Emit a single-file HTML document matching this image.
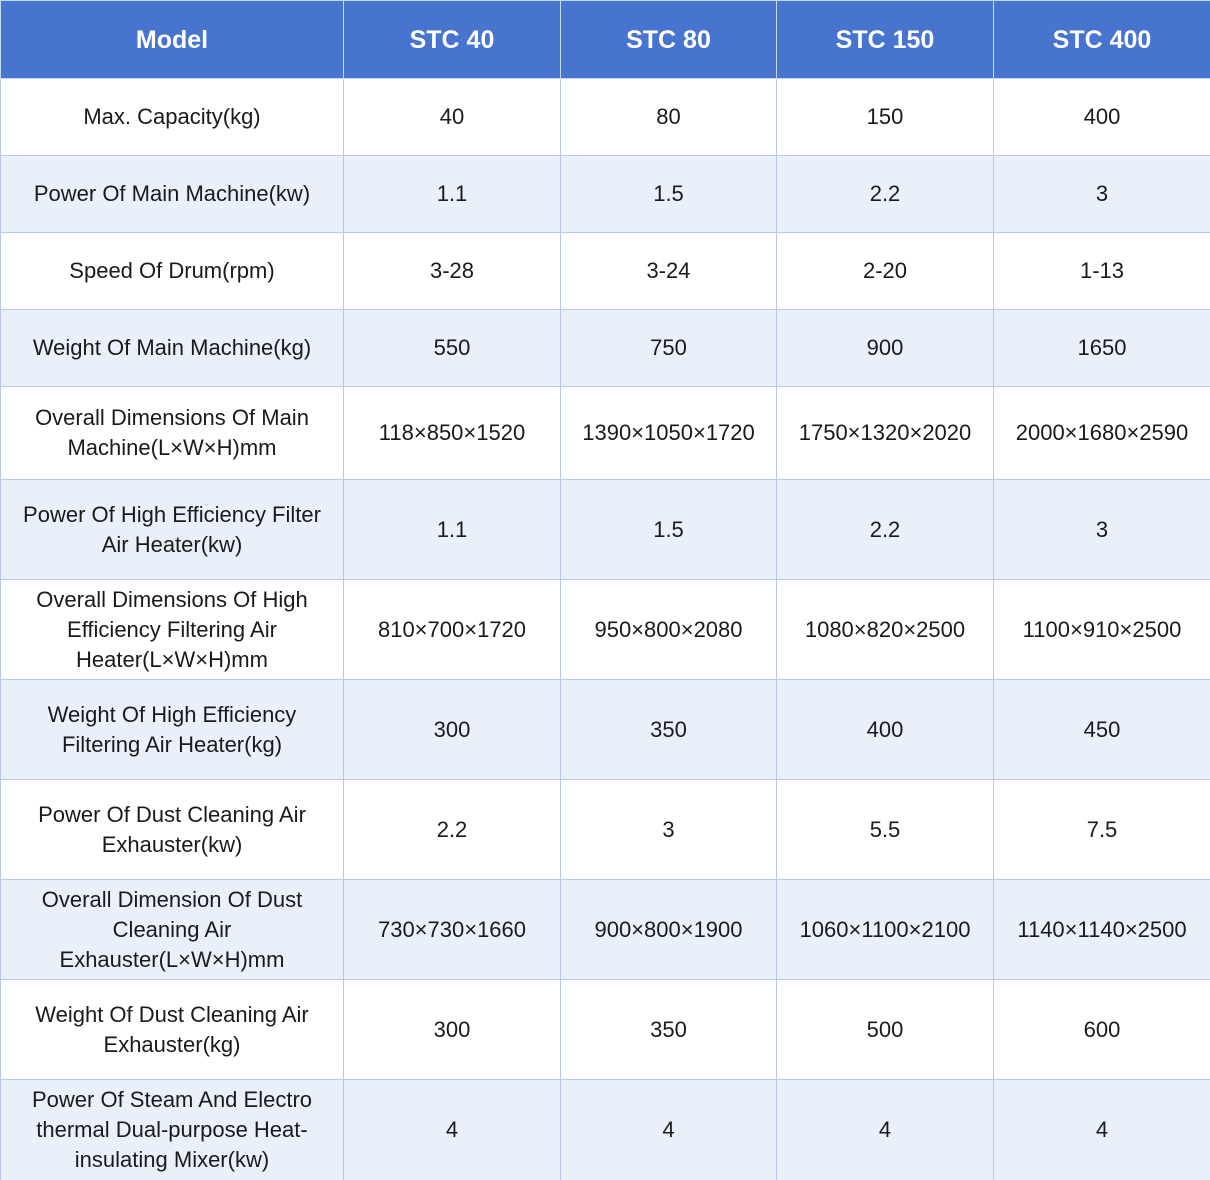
<!DOCTYPE html>
<html><head><meta charset="utf-8"><style>
html,body{margin:0;padding:0;width:1210px;height:1180px;background:#fff;overflow:hidden}
table{border-collapse:collapse;table-layout:fixed;width:1210px;font-family:"Liberation Sans",sans-serif;font-size:22px;color:#1a1a1a}
td,th{border:1px solid #b9c9e6;text-align:center;vertical-align:middle;padding:0 2px;line-height:30px;white-space:nowrap}
th{background:#4674cf;color:#fff;font-weight:bold;font-size:25px;height:77px;border-color:#c9d6ef}
tr.alt td{background:#eaf0fa}
</style></head><body>
<table>
<colgroup><col style="width:343px"><col style="width:217px"><col style="width:216px"><col style="width:217px"><col style="width:217px"></colgroup>
<tr><th>Model</th><th>STC 40</th><th>STC 80</th><th>STC 150</th><th>STC 400</th></tr>
<tr style="height:77px"><td>Max. Capacity(kg)</td><td>40</td><td>80</td><td>150</td><td>400</td></tr>
<tr class="alt" style="height:77px"><td>Power Of Main Machine(kw)</td><td>1.1</td><td>1.5</td><td>2.2</td><td>3</td></tr>
<tr style="height:77px"><td>Speed Of Drum(rpm)</td><td>3-28</td><td>3-24</td><td>2-20</td><td>1-13</td></tr>
<tr class="alt" style="height:77px"><td>Weight Of Main Machine(kg)</td><td>550</td><td>750</td><td>900</td><td>1650</td></tr>
<tr style="height:93px"><td>Overall Dimensions Of Main<br>Machine(L×W×H)mm</td><td>118×850×1520</td><td>1390×1050×1720</td><td>1750×1320×2020</td><td>2000×1680×2590</td></tr>
<tr class="alt" style="height:100px"><td>Power Of High Efficiency Filter<br>Air Heater(kw)</td><td>1.1</td><td>1.5</td><td>2.2</td><td>3</td></tr>
<tr style="height:100px"><td>Overall Dimensions Of High<br>Efficiency Filtering Air<br>Heater(L×W×H)mm</td><td>810×700×1720</td><td>950×800×2080</td><td>1080×820×2500</td><td>1100×910×2500</td></tr>
<tr class="alt" style="height:100px"><td>Weight Of High Efficiency<br>Filtering Air Heater(kg)</td><td>300</td><td>350</td><td>400</td><td>450</td></tr>
<tr style="height:100px"><td>Power Of Dust Cleaning Air<br>Exhauster(kw)</td><td>2.2</td><td>3</td><td>5.5</td><td>7.5</td></tr>
<tr class="alt" style="height:100px"><td>Overall Dimension Of Dust<br>Cleaning Air<br>Exhauster(L×W×H)mm</td><td>730×730×1660</td><td>900×800×1900</td><td>1060×1100×2100</td><td>1140×1140×2500</td></tr>
<tr style="height:100px"><td>Weight Of Dust Cleaning Air<br>Exhauster(kg)</td><td>300</td><td>350</td><td>500</td><td>600</td></tr>
<tr class="alt" style="height:101px"><td>Power Of Steam And Electro<br>thermal Dual-purpose Heat-<br>insulating Mixer(kw)</td><td>4</td><td>4</td><td>4</td><td>4</td></tr>
</table>
</body></html>
